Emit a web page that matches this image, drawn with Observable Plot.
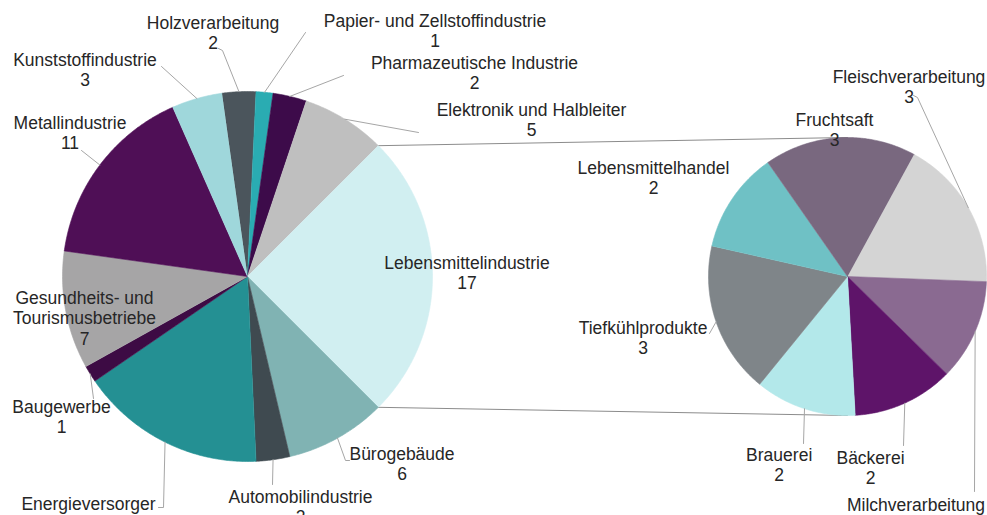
<!DOCTYPE html>
<html><head><meta charset="utf-8">
<script src="https://cdn.jsdelivr.net/npm/d3@7"></script>
<script src="https://cdn.jsdelivr.net/npm/@observablehq/plot@0.6"></script>
<style>html,body{margin:0;padding:0;background:#fff;overflow:hidden}</style>
</head><body><div id="chart"></div>
<script>
// ---- data ----
const mainCategories = ["Holzverarbeitung","Papier- und Zellstoffindustrie","Pharmazeutische Industrie","Elektronik und Halbleiter","Lebensmittelindustrie","Bürogebäude","Automobilindustrie","Energieversorger","Baugewerbe","Gesundheits- und Tourismusbetriebe","Metallindustrie","Kunststoffindustrie"];
const mainValues = [2,1,2,5,17,6,2,11,1,7,11,3];
const subCategories = ["Fleischverarbeitung","Milchverarbeitung","Bäckerei","Brauerei","Tiefkühlprodukte","Lebensmittelhandel","Fruchtsaft"];
const subValues = [3,2,2,2,3,2,3];
const expandedCategory = "Lebensmittelindustrie";

// ---- styles ----
const mainColors = ["#4b555c","#2aacb2","#3d0b4a","#bfbfbf","#d1eff1","#80b3b3","#3f4a50","#249093","#3d0b44","#a6a5a6","#4f0f56","#9fd7db"];
const subColors = ["#d4d4d4","#8a6a91","#5e1469","#b3e8ea","#7f8589","#6fc1c5","#79687f"];
const textColor = "#262626", leaderColor = "#a6a6a6";
const fontFamily = "'Liberation Sans', Arial, sans-serif", fontSize = 17.5, lineGap = 20.5;

// ---- layout ----
const W = 987, H = 515;
const mainPie = {cx: 247, cy: 276, r: 185};
const subPie = {cx: 847, cy: 276, r: 139, startDeg: 28.6};
// label text: centre x, first baseline y, optional leader path (after the slice edge point)
const labelLayout = {
  "Holzverarbeitung": {x: 212.5, y: 28, leader: [[222, 50], [218, 48]]},
  "Papier- und Zellstoffindustrie": {x: 434.5, y: 26, leader: [[305, 32]]},
  "Pharmazeutische Industrie": {x: 474, y: 68, leader: [[343, 75]]},
  "Elektronik und Halbleiter": {x: 531, y: 115, leader: [[418, 132]]},
  "Lebensmittelindustrie": {x: 466.5, y: 268},
  "Bürogebäude": {x: 401.5, y: 459, leader: [[345, 460], [349, 460]]},
  "Automobilindustrie": {x: 300, y: 502, leader: [[272, 484]]},
  "Energieversorger": {x: 88, y: 509, leader: [[163, 507], [158, 507]]},
  "Baugewerbe": {x: 61, y: 412, leader: [[93, 398]]},
  "Gesundheits- und Tourismusbetriebe": {x: 84, y: 303, lines: ["Gesundheits- und", "Tourismusbetriebe"]},
  "Metallindustrie": {x: 69.5, y: 128, leader: [[81, 150]]},
  "Kunststoffindustrie": {x: 84.5, y: 65, leader: [[161, 66]]},
  "Fleischverarbeitung": {x: 908.5, y: 82, leader: [[917, 97], [913, 95]]},
  "Milchverarbeitung": {x: 915.5, y: 510, leader: [[974, 491]]},
  "Bäckerei": {x: 870, y: 463, leader: [[903, 445]]},
  "Brauerei": {x: 778.7, y: 460, leader: [[803, 443]]},
  "Tiefkühlprodukte": {x: 642.5, y: 333, leader: [[709, 333]]},
  "Lebensmittelhandel": {x: 653, y: 173},
  "Fruchtsaft": {x: 834, y: 125}
};

// ---- geometry from data ----
function buildPie(cats, vals, colors, pie, startRad) {
  const arcs = d3.pie().sort(null).startAngle(startRad).endAngle(startRad + 2 * Math.PI)(vals);
  const poly = [], info = [];
  const pt = (t) => [pie.cx + pie.r * Math.sin(t), pie.cy - pie.r * Math.cos(t)];
  arcs.forEach((a, i) => {
    const n = Math.max(2, Math.ceil((a.endAngle - a.startAngle) / (Math.PI / 360)));
    poly.push({name: cats[i], color: colors[i], x: pie.cx, y: pie.cy});
    for (let k = 0; k <= n; k++) {
      const [x, y] = pt(a.startAngle + (a.endAngle - a.startAngle) * k / n);
      poly.push({name: cats[i], color: colors[i], x, y});
    }
    const [ex, ey] = pt((a.startAngle + a.endAngle) / 2);
    const [sx, sy] = pt(a.startAngle), [tx, ty] = pt(a.endAngle);
    info.push({name: cats[i], value: vals[i], ex, ey, sx, sy, tx, ty});
  });
  return {poly, info};
}

const total = d3.sum(mainValues);
const ei = mainCategories.indexOf(expandedCategory);
const before = d3.sum(mainValues.slice(0, ei));
const mainStart = Math.PI / 2 - (before + mainValues[ei] / 2) / total * 2 * Math.PI;
const main = buildPie(mainCategories, mainValues, mainColors, mainPie, mainStart);
const sub = buildPie(subCategories, subValues, subColors, subPie, subPie.startDeg * Math.PI / 180);

const exp = main.info[ei];
const connectors = [
  {id: "top", x: exp.sx, y: exp.sy}, {id: "top", x: subPie.cx, y: subPie.cy - subPie.r},
  {id: "bottom", x: exp.tx, y: exp.ty}, {id: "bottom", x: subPie.cx, y: subPie.cy + subPie.r}
];

const allInfo = [...main.info, ...sub.info];
const leaders = [], texts = [];
for (const d of allInfo) {
  const L = labelLayout[d.name];
  if (!L) continue;
  if (L.leader) {
    leaders.push({id: d.name, x: d.ex, y: d.ey});
    for (const [x, y] of L.leader) leaders.push({id: d.name, x, y});
  }
  const lines = [...(L.lines || [d.name]), String(d.value)];
  lines.forEach((t, i) => texts.push({text: t, x: L.x, y: L.y + i * lineGap}));
}

const chart = Plot.plot({
  width: W, height: H, margin: 0,
  x: {domain: [0, W], range: [0, W], axis: null},
  y: {domain: [0, H], range: [0, H], axis: null},
  color: {type: "identity"},
  style: {fontFamily, background: "#fff", overflow: "hidden"},
  marks: [
    Plot.line(connectors, {x: "x", y: "y", z: "id", stroke: "#8c8c8c", strokeWidth: 1}),
    Plot.line([...main.poly, ...sub.poly], {x: "x", y: "y", z: "name", fill: "color", stroke: "color", strokeWidth: 0.6, curve: "linear"}),
    Plot.line(leaders, {x: "x", y: "y", z: "id", stroke: leaderColor, strokeWidth: 1}),
    Plot.text(texts, {x: "x", y: "y", text: "text", textAnchor: "middle", lineAnchor: "bottom", fontSize, fill: textColor})
  ]
});
document.getElementById("chart").append(chart);
</script>
</body></html>
